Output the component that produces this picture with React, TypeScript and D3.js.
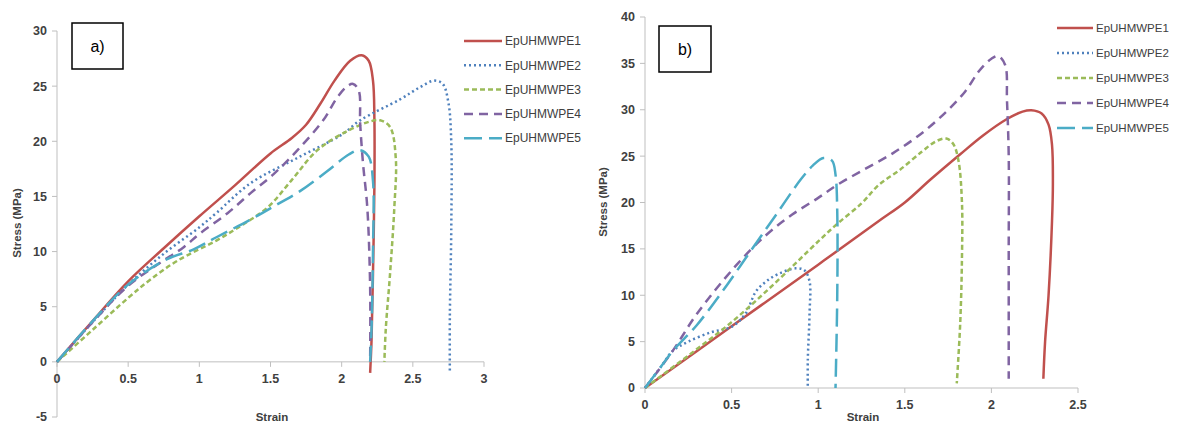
import React from "react";
import * as d3 from "d3";

// series names and styles (Excel 2007 palette)
const names = ["EpUHMWPE1", "EpUHMWPE2", "EpUHMWPE3", "EpUHMWPE4", "EpUHMWPE5"];
const colors = ["#C0504D", "#4F81BD", "#9BBB59", "#8064A2", "#4BACC6"];
const dashes = ["", "2,3", "5,3", "9,6", "18,7"];

// panel a) strain / stress pairs
const a1 = [[0,0],[0.25,3.7],[0.5,7.3],[0.75,10.3],[1.0,13.2],[1.25,16],[1.5,18.9],[1.65,20.3],[1.75,21.5],[1.85,23.4],[1.95,25.5],[2.06,27.3],[2.14,27.8],[2.19,27.3],[2.22,25.5],[2.23,22],[2.23,16],[2.22,8],[2.21,2],[2.2,-1]];
const a2 = [[0,0],[0.25,3.6],[0.5,7],[0.75,9.8],[1.0,12.2],[1.12,13.5],[1.36,16.2],[1.69,18.5],[2.0,20.6],[2.13,21.9],[2.41,23.8],[2.55,24.9],[2.65,25.5],[2.71,25.2],[2.75,23.5],[2.77,20],[2.77,12],[2.76,4],[2.76,-0.8]];
const a3 = [[0,0],[0.25,2.9],[0.5,5.8],[0.65,7.4],[0.85,9.2],[1.12,11.0],[1.3,12.4],[1.48,14],[1.65,16.5],[1.83,19.2],[2.05,21],[2.2,21.8],[2.27,21.9],[2.34,21.3],[2.38,18.5],[2.37,14],[2.34,8],[2.31,3],[2.3,0]];
const a4 = [[0,0],[0.25,3.6],[0.5,6.9],[0.75,9.2],[0.89,10.4],[1.0,11.6],[1.2,13.5],[1.36,15.3],[1.52,17],[1.69,19.2],[1.87,21.9],[1.97,24],[2.04,25],[2.08,25.2],[2.12,24.6],[2.13,21.6],[2.15,18],[2.18,14],[2.2,6.8],[2.2,0]];
const a5 = [[0,0],[0.25,3.7],[0.5,7],[0.77,9.3],[0.96,10.2],[1.12,11.3],[1.36,12.9],[1.55,14.3],[1.71,15.5],[1.9,17.3],[2.05,18.8],[2.13,19.2],[2.19,18.6],[2.22,16.4],[2.22,10],[2.21,3],[2.2,0]];

// panel b)
const b1 = [[0,0],[0.5,6.65],[1.0,13.3],[1.35,18],[1.5,20],[1.65,22.5],[1.82,25.2],[1.95,27.2],[2.09,29],[2.18,29.8],[2.23,29.95],[2.29,29.6],[2.33,28.4],[2.35,26.2],[2.355,22],[2.35,18],[2.33,10],[2.31,5],[2.3,1]];
const b2 = [[0,0],[0.1,2.5],[0.16,4],[0.25,5],[0.38,6],[0.5,6.6],[0.58,8],[0.64,10.4],[0.7,11.5],[0.77,12.3],[0.87,12.9],[0.92,12.7],[0.95,11.5],[0.95,8],[0.94,3],[0.94,0]];
const b3 = [[0,0],[0.25,3.5],[0.5,7.1],[0.75,11.3],[1.0,15.8],[1.11,17.7],[1.25,19.9],[1.35,21.9],[1.47,23.5],[1.6,25.5],[1.68,26.6],[1.74,26.9],[1.78,26.3],[1.81,24.5],[1.83,20],[1.83,14],[1.82,7],[1.8,0.5]];
const b4 = [[0,0],[0.16,4],[0.3,8],[0.53,13.3],[0.7,16.5],[0.85,18.7],[1.0,20.5],[1.11,21.9],[1.25,23.4],[1.43,25.3],[1.6,27.5],[1.74,29.8],[1.85,32],[1.93,34.2],[2.0,35.5],[2.04,35.8],[2.08,34.8],[2.09,31],[2.1,25],[2.1,15],[2.1,5],[2.1,1]];
const b5 = [[0,0],[0.1,2.5],[0.16,4],[0.3,6.8],[0.45,10.5],[0.6,14.5],[0.75,18.5],[0.9,22.5],[0.97,24],[1.03,24.8],[1.08,24.5],[1.1,23],[1.11,19],[1.11,10],[1.1,0]];

// tick values
const aXTicks = [0, 0.5, 1, 1.5, 2, 2.5, 3];
const aYTicks = [-5, 0, 5, 10, 15, 20, 25, 30];
const bXTicks = [0, 0.5, 1, 1.5, 2, 2.5];
const bYTicks = [0, 5, 10, 15, 20, 25, 30, 35, 40];

const axisColor = "#bfbfbf";
const textColor = "#404040";
const font = "'Liberation Sans', Arial, sans-serif";

const Panel = ({ series, xTicks, yTicks, xRange, yRange, tag, tagBox, legend, yLabel, xLabel }) => {
  const x = d3.scaleLinear().domain(d3.extent(xTicks)).range(xRange);
  const y = d3.scaleLinear().domain(d3.extent(yTicks)).range(yRange);
  const line = d3
    .line()
    .x((d) => x(d[0]))
    .y((d) => y(d[1]))
    .curve(d3.curveCatmullRom.alpha(0.5));
  const y0 = y(0);
  return (
    <g fontFamily={font}>
      {/* axes */}
      <line x1={x(0)} x2={x(0)} y1={y(yTicks[0])} y2={y(yTicks[yTicks.length - 1])} stroke={axisColor} />
      <line x1={x(0)} x2={x(xTicks[xTicks.length - 1])} y1={y0} y2={y0} stroke={axisColor} />
      {yTicks.map((t) => (
        <g key={"y" + t}>
          <line x1={x(0) - 5} x2={x(0)} y1={y(t)} y2={y(t)} stroke={axisColor} />
          <text x={x(0) - 10} y={y(t)} dy="0.35em" textAnchor="end" fontSize={12.5} fontWeight="bold" fill={textColor}>
            {t}
          </text>
        </g>
      ))}
      {xTicks.map((t) => (
        <g key={"x" + t}>
          <line x1={x(t)} x2={x(t)} y1={y0} y2={y0 + 5} stroke={axisColor} />
          <text x={x(t)} y={y0 + 21} textAnchor="middle" fontSize={12.5} fontWeight="bold" fill={textColor}>
            {t}
          </text>
        </g>
      ))}
      <text x={xLabel[0]} y={xLabel[1]} textAnchor="middle" fontSize={11.5} fontWeight="bold" fill={textColor}>
        Strain
      </text>
      <text
        transform={`translate(${yLabel[0]},${yLabel[1]}) rotate(-90)`}
        textAnchor="middle"
        dy="0.35em"
        fontSize={11.5}
        fontWeight="bold"
        fill={textColor}
      >
        Stress (MPa)
      </text>
      {/* curves */}
      {series.map((s, i) => (
        <path
          key={i}
          d={line(s)}
          fill="none"
          stroke={colors[i]}
          strokeWidth={2.5}
          strokeDasharray={dashes[i]}
        />
      ))}
      {/* tag box */}
      <rect x={tagBox[0]} y={tagBox[1]} width={tagBox[2]} height={tagBox[3]} fill="white" stroke="black" strokeWidth={1.5} />
      <text x={tagBox[0] + tagBox[2] / 2} y={tagBox[1] + tagBox[3] / 2} dy="0.35em" textAnchor="middle" fontSize={16} fill="black">
        {tag}
      </text>
      {/* legend */}
      {names.map((n, i) => (
        <g key={n} transform={`translate(${legend.x},${legend.y + i * legend.step})`}>
          <line x1={0} x2={legend.len} y1={0} y2={0} stroke={colors[i]} strokeWidth={2.5} strokeDasharray={dashes[i]} />
          <text x={legend.len + 3} y={0} dy="0.35em" fontSize={legend.fs} fill={textColor}>
            {n}
          </text>
        </g>
      ))}
    </g>
  );
};

export default function App() {
  return (
    <svg width={1181} height={423} style={{ position: "absolute", left: 0, top: 0, background: "white" }}>
      <rect width={1181} height={423} fill="white" />
      <Panel
        series={[a1, a2, a3, a4, a5]}
        xTicks={aXTicks}
        yTicks={aYTicks}
        xRange={[57, 484]}
        yRange={[417, 31]}
        tag="a)"
        tagBox={[72, 23, 51, 46]}
        legend={{ x: 464, y: 41, step: 24.3, len: 38, fs: 12 }}
        yLabel={[17, 223]}
        xLabel={[272, 421]}
      />
      <Panel
        series={[b1, b2, b3, b4, b5]}
        xTicks={bXTicks}
        yTicks={bYTicks}
        xRange={[645, 1078]}
        yRange={[388, 17]}
        tag="b)"
        tagBox={[659, 26, 52, 46]}
        legend={{ x: 1057, y: 28, step: 25, len: 36, fs: 11.5 }}
        yLabel={[603, 202]}
        xLabel={[863, 421]}
      />
    </svg>
  );
}
